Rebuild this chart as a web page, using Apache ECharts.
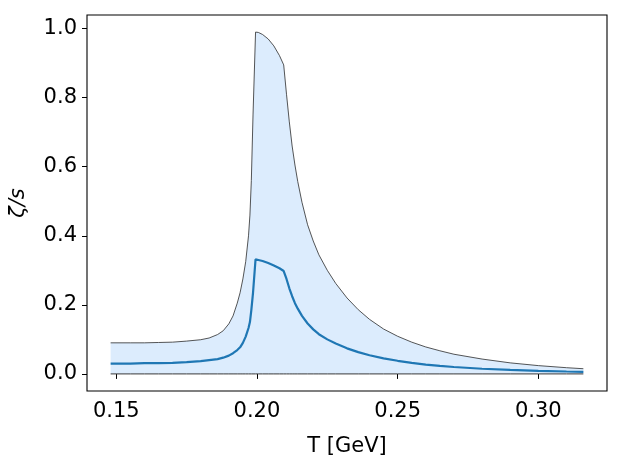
<!DOCTYPE html>
<html>
<head>
<meta charset="utf-8">
<script src="https://cdn.jsdelivr.net/npm/echarts@6/dist/echarts.min.js"></script>
<style>
html,body{margin:0;padding:0;background:#fff;}
#c{width:623px;height:463px;}
</style>
</head>
<body>
<div id="c"></div>
<script>
var temps = [0.148, 0.155, 0.160, 0.165, 0.170, 0.175, 0.180, 0.183, 0.186, 0.188, 0.190, 0.1915, 0.193, 0.194, 0.195, 0.196, 0.197, 0.1975, 0.198, 0.1986, 0.1995, 0.2005, 0.202, 0.204, 0.206, 0.208, 0.2095, 0.2105, 0.2115, 0.2125, 0.2135, 0.2145, 0.216, 0.218, 0.220, 0.222, 0.225, 0.228, 0.232, 0.236, 0.240, 0.245, 0.250, 0.255, 0.260, 0.265, 0.270, 0.280, 0.290, 0.300, 0.310, 0.316];
var meanZeta = [0.030, 0.030, 0.031, 0.031, 0.032, 0.034, 0.037, 0.040, 0.043, 0.047, 0.053, 0.060, 0.069, 0.077, 0.090, 0.108, 0.133, 0.150, 0.185, 0.235, 0.332, 0.330, 0.327, 0.321, 0.314, 0.306, 0.298, 0.275, 0.248, 0.225, 0.205, 0.189, 0.168, 0.146, 0.129, 0.115, 0.100, 0.088, 0.074, 0.063, 0.054, 0.045, 0.038, 0.032, 0.027, 0.023, 0.020, 0.015, 0.0115, 0.009, 0.007, 0.006];
var upperZeta = [0.090, 0.090, 0.090, 0.091, 0.092, 0.095, 0.099, 0.104, 0.114, 0.125, 0.145, 0.168, 0.205, 0.235, 0.275, 0.325, 0.400, 0.460, 0.560, 0.750, 0.990, 0.989, 0.983, 0.970, 0.950, 0.922, 0.895, 0.810, 0.730, 0.660, 0.605, 0.557, 0.497, 0.432, 0.385, 0.345, 0.300, 0.262, 0.220, 0.186, 0.158, 0.130, 0.109, 0.092, 0.078, 0.067, 0.057, 0.043, 0.032, 0.024, 0.018, 0.015];
var lowerZeta = [0,0,0,0,0,0,0,0,0,0,0,0,0,0,0,0,0,0,0,0,0,0,0,0,0,0,0,0,0,0,0,0,0,0,0,0,0,0,0,0,0,0,0,0,0,0,0,0,0,0,0,0];
var xTicks = [0.15, 0.20, 0.25, 0.30];
var yTicks = [0.0, 0.2, 0.4, 0.6, 0.8, 1.0];

function pairs(xs, ys){ return xs.map(function(x,i){ return [x, ys[i]]; }); }

var chart = echarts.init(document.getElementById('c'), null, {renderer:'canvas'});
var font = 'DejaVu Sans';
chart.setOption({
  animation:false,
  backgroundColor:'#ffffff',
  grid:{left:87, top:15, right:16, bottom:72, show:true, borderColor:'#000', borderWidth:1.1, backgroundColor:'transparent'},
  xAxis:{
    type:'value', min:0.1396, max:0.3244,
    name:'T [GeV]', nameLocation:'middle', nameGap:45,
    nameTextStyle:{fontFamily:font, fontSize:21, color:'#000'},
    axisLine:{show:false},
    splitLine:{show:false},
    axisTick:{show:true, inside:false, length:5, lineStyle:{color:'#000', width:1}, customValues:xTicks},
    axisLabel:{fontFamily:font, fontSize:21, color:'#000', margin:10, customValues:xTicks, formatter:function(v){return v.toFixed(2);}}
  },
  yAxis:{
    type:'value', min:-0.0495, max:1.0395,
    name:'ζ/s', nameLocation:'middle', nameGap:58, nameRotate:90,
    nameTextStyle:{fontFamily:font, fontSize:21, fontStyle:'italic', color:'#000'},
    axisLine:{show:false},
    splitLine:{show:false},
    axisTick:{show:true, inside:false, length:5, lineStyle:{color:'#000', width:1}, customValues:yTicks},
    axisLabel:{fontFamily:font, fontSize:21, color:'#000', margin:10, customValues:yTicks, formatter:function(v){return v.toFixed(1);}}
  },
  series:[
    {type:'line', data:pairs(temps, upperZeta), showSymbol:false, symbol:'none',
     lineStyle:{color:'#2b2b2b', width:0.8},
     areaStyle:{color:'#dcecfd', opacity:1, origin:0}, z:1},
    {type:'line', data:pairs(temps, lowerZeta), showSymbol:false, symbol:'none',
     lineStyle:{color:'#3a3a3a', width:1}, z:2},
    {type:'line', data:pairs(temps, meanZeta), showSymbol:false, symbol:'none',
     lineStyle:{color:'#1f77b4', width:2.2}, z:3}
  ]
});
</script>
</body>
</html>
